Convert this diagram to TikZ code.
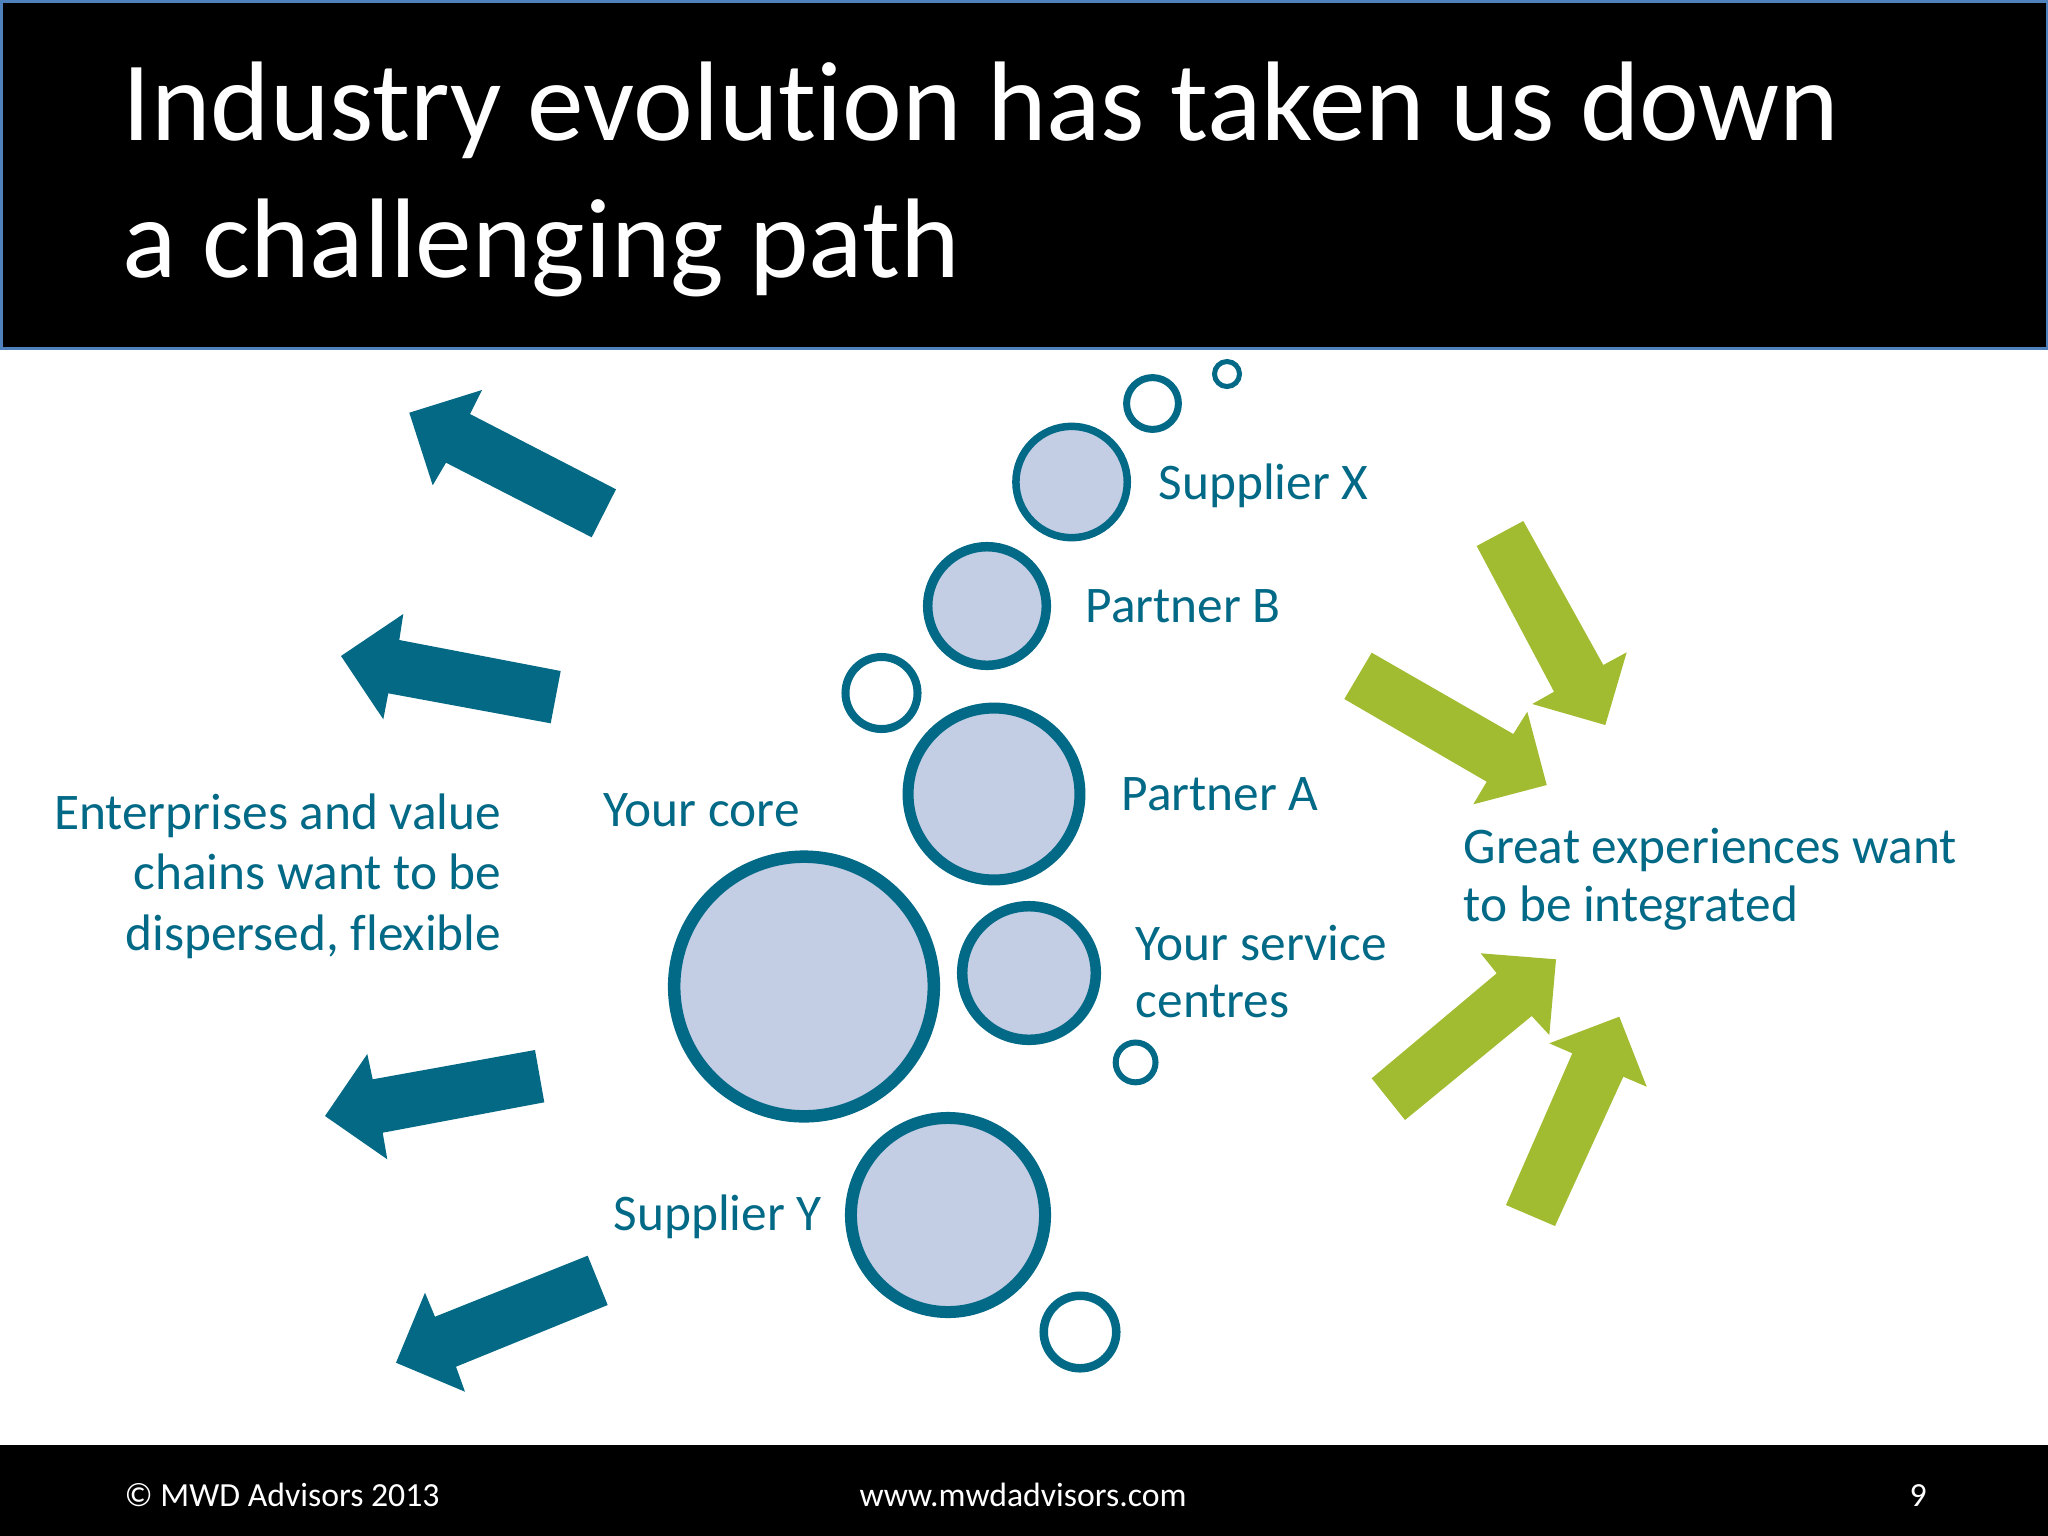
\documentclass[tikz,border=0pt]{standalone}
\usepackage{fontspec}
\setmainfont[Ligatures={NoCommon}]{Carlito}
\definecolor{teal}{RGB}{2,105,134}
\definecolor{arrowteal}{RGB}{3,105,133}
\definecolor{lime}{RGB}{161,188,49}
\definecolor{bfill}{RGB}{195,205,228}
\definecolor{hdrblue}{RGB}{79,129,189}
\begin{document}
\begin{tikzpicture}[x=0.01cm,y=-0.01cm,
  bubble/.style={circle,draw=teal,fill=bfill,inner sep=0pt},
  ring/.style={circle,draw=teal,fill=white,inner sep=0pt},
  lbl/.style={text=teal,font=\fontsize{14.6}{17}\selectfont,inner sep=0pt,anchor=base west},
  lblr/.style={lbl,anchor=base east},
  ttl/.style={text=white,font=\fontsize{32.2}{38}\selectfont,inner sep=0pt,anchor=base west},
  foot/.style={text=white,font=\fontsize{9.6}{11}\selectfont,inner sep=0pt,anchor=base west},
  tealarrow/.style={fill=arrowteal},
  greenarrow/.style={fill=lime}]
\useasboundingbox (0,0) rectangle (2048,1536);
\fill[white] (0,0) rectangle (2048,1536);
% header
\fill[black] (0,0) rectangle (2048,349);
\draw[hdrblue,line width=0.3mm] (1,1) rectangle (2047,348);
\node[ttl] (t1) at (122,140) {Industry evolution has taken us down};
\node[ttl] (t2) at (122,277) {a challenging path};
% footer
\fill[black] (0,1445) rectangle (2048,1536);
\node[foot] (f1) at (124,1506) {© MWD Advisors 2013};
\node[foot] (f2) at (859,1506) {www.mwdadvisors.com};
\node[foot] (f3) at (1909,1506) {9};
% bubbles
\node[ring,minimum size=2.5mm,line width=0.5mm] (c1) at (1227,374) {};
\node[ring,minimum size=5.18mm,line width=0.7mm] (c2) at (1152.5,403.5) {};
\node[bubble,minimum size=11.13mm,line width=0.75mm] (supx) at (1071.6,482) {};
\node[bubble,minimum size=11.85mm,line width=0.95mm] (partb) at (987,606) {};
\node[ring,minimum size=7.2mm,line width=0.8mm] (c3) at (881.5,693) {};
\node[bubble,minimum size=17.18mm,line width=1.1mm] (parta) at (994,794) {};
\node[bubble,minimum size=25.95mm,line width=1.25mm] (core) at (804,986.5) {};
\node[bubble,minimum size=13.35mm,line width=1.05mm] (serv) at (1029,973) {};
\node[ring,minimum size=3.98mm,line width=0.6mm] (c4) at (1135.6,1062.4) {};
\node[bubble,minimum size=19.4mm,line width=1.2mm] (supy) at (948,1215) {};
\node[ring,minimum size=7.25mm,line width=0.85mm] (c5) at (1080,1332) {};
% labels
\node[lbl] (lsupx) at (1158,499) {Supplier X};
\node[lbl] (lpartb) at (1085,622) {Partner B};
\node[lbl] (lparta) at (1121,810) {Partner A};
\node[lbl] (lserv1) at (1135,960) {Your service};
\node[lbl] (lserv2) at (1135,1017) {centres};
\node[lbl] (lcore) at (603,826) {Your core};
\node[lbl] (lsupy) at (613,1230) {Supplier Y};
\node[lblr] (le1) at (502,829) {Enterprises and value};
\node[lblr] (le2) at (502,889) {chains want to be};
\node[lblr] (le3) at (502,950) {dispersed, flexible};
\node[lbl] (lg1) at (1463,863) {Great experiences want};
\node[lbl] (lg2) at (1463,921) {to be integrated};
% teal arrows (outwards, left)
\fill[tealarrow] (409.3,412.7) -- (482,390) -- (470,414) -- (616,489.3) -- (591.7,537.3) -- (446,462.7) -- (432.7,485.3) -- cycle;
\fill[tealarrow] (341,656) -- (403.3,614) -- (399.3,640) -- (560.7,671) -- (550.7,723.3) -- (388.3,693.3) -- (383.3,719.3) -- cycle;
\fill[tealarrow] (325,1116) -- (367.3,1054) -- (372.7,1079.3) -- (535,1050) -- (544.3,1102.3) -- (382.7,1132.7) -- (387.3,1159.3) -- cycle;
\fill[tealarrow] (396,1362.7) -- (425,1292.7) -- (435,1316.7) -- (587.7,1255.7) -- (607.7,1305) -- (456,1366.7) -- (465,1391.7) -- cycle;
% green arrows (inwards)
\fill[greenarrow] (1476.7,546) -- (1523.3,521) -- (1603.3,665) -- (1626.7,652.3) -- (1605.3,725) -- (1532.3,704) -- (1554,691.7) -- cycle;
\fill[greenarrow] (1371.7,652.7) -- (1344.3,699) -- (1486.7,781.7) -- (1473.3,804.3) -- (1546.7,785) -- (1527.3,711.7) -- (1513.3,734) -- cycle;
\fill[greenarrow] (1405,1120) -- (1371.7,1078.3) -- (1496.7,973.3) -- (1480.7,953.3) -- (1556,959.3) -- (1549.3,1035) -- (1531.7,1016) -- cycle;
\fill[greenarrow] (1506,1205) -- (1555,1226) -- (1623.3,1076.7) -- (1646.7,1086.7) -- (1619.3,1016.7) -- (1549.3,1043.3) -- (1572.3,1053.3) -- cycle;
\end{tikzpicture}
\end{document}
